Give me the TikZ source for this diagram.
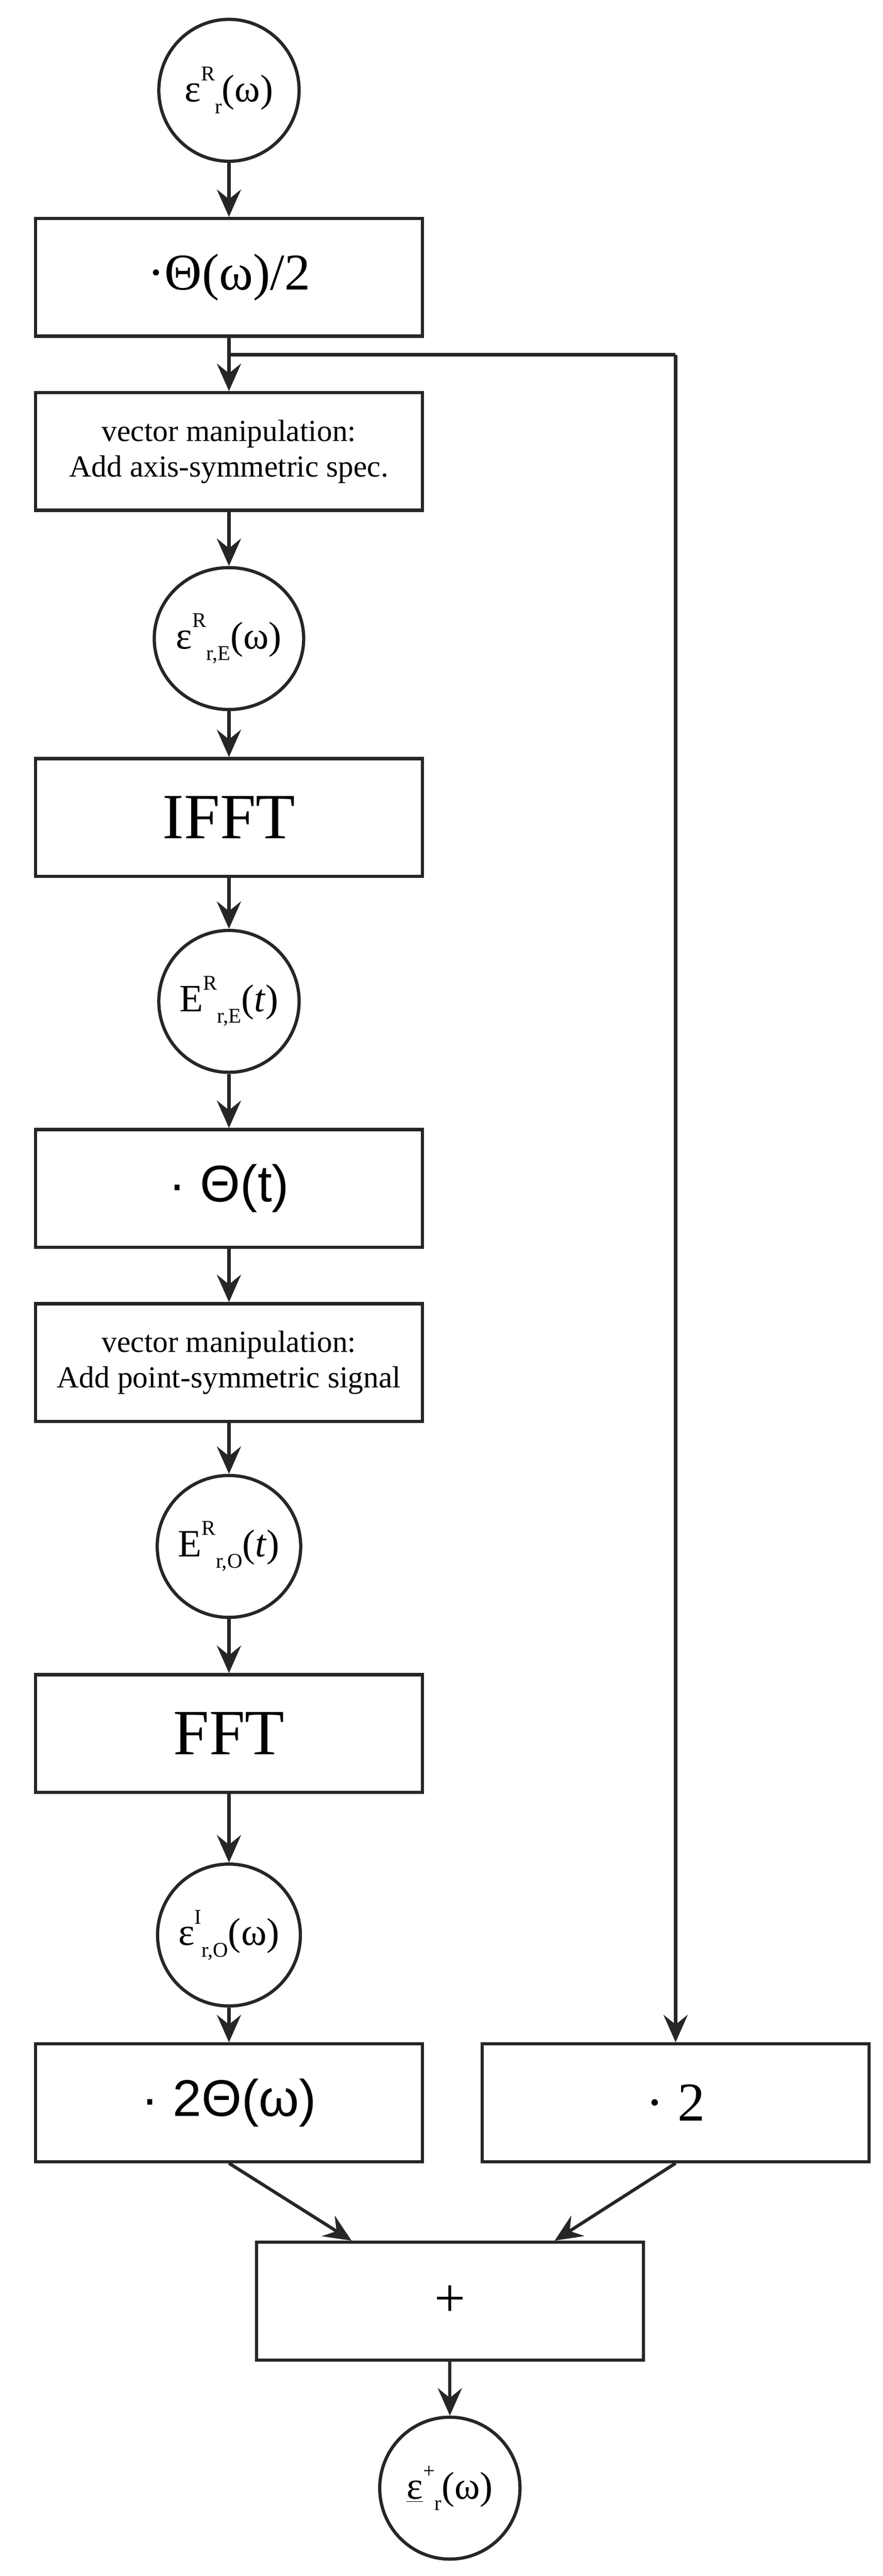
\documentclass[tikz,border=0pt]{standalone}
\usepackage{fontspec}
\setmainfont{Liberation Serif}
\newfontfamily\sansf{Liberation Sans}
\usetikzlibrary{arrows.meta,shapes.geometric}
\newcommand{\myhi}[1]{\raisebox{0.55em}{\fontsize{13}{13}\selectfont #1}}
\newcommand{\mylo}[1]{\raisebox{-0.3em}{\fontsize{13}{13}\selectfont #1}}
\begin{document}
\begin{tikzpicture}[x=1pt,y=-1pt,line width=2pt,draw=black!85,
  circ/.style={draw,ellipse,minimum width=87pt,minimum height=88pt,inner sep=0pt,font=\fontsize{24}{24}\selectfont},
  box/.style={draw,rectangle,minimum width=240pt,minimum height=73pt,inner sep=0pt,align=center},
  arr/.style={-{Stealth[length=17pt,width=15pt,inset=6pt]}}]
\useasboundingbox (0,0) rectangle (547.5,1597.5);
\node[circ] (c1) at (142,56) {ε\myhi{R}\mylo{r}(ω)};
\node[box,font=\fontsize{32}{32}\selectfont] (b1) at (142,172) {·Θ(ω)/2};
\coordinate (br) at (142,220);
\coordinate (brr) at (419,220);
\node[box,font=\fontsize{19}{22}\selectfont] (b2) at (142,280) {vector manipulation:\\Add axis-symmetric spec.};
\node[circ] (c2) at (142,396) {ε\myhi{R}\mylo{r,E}(ω)};
\node[box,font=\fontsize{40}{40}\selectfont] (b3) at (142,507) {IFFT};
\node[circ] (c3) at (142,621) {E\myhi{R}\mylo{r,E}(\textit{t})};
\node[box,font=\sansf\fontsize{32}{32}\selectfont] (b4) at (142,737) {· Θ(t)};
\node[box,font=\fontsize{19}{22}\selectfont] (b5) at (142,845) {vector manipulation:\\Add point-symmetric signal};
\node[circ] (c4) at (142,959) {E\myhi{R}\mylo{r,O}(\textit{t})};
\node[box,font=\fontsize{40}{40}\selectfont] (b6) at (142,1075) {FFT};
\node[circ] (c5) at (142,1200) {ε\myhi{I}\mylo{r,O}(ω)};
\node[box,font=\sansf\fontsize{32}{32}\selectfont] (b7) at (142,1304) {· 2Θ(ω)};
\node[box,font=\fontsize{34}{34}\selectfont] (b8) at (419,1304) {· 2};
\node[box,font=\fontsize{34}{34}\selectfont] (b9) at (279,1427) {+};
\node[circ] (c6) at (279,1543) {\underline{ε}\myhi{+}\mylo{r}(ω)};
\draw[arr] (c1) -- (b1);
\draw[arr] (b1) -- (b2);
\draw (br) -- (brr);
\draw[arr] (brr) -- (b8.north);
\draw[arr] (b2) -- (c2);
\draw[arr] (c2) -- (b3);
\draw[arr] (b3) -- (c3);
\draw[arr] (c3) -- (b4);
\draw[arr] (b4) -- (b5);
\draw[arr] (b5) -- (c4);
\draw[arr] (c4) -- (b6);
\draw[arr] (b6) -- (c5);
\draw[arr] (c5) -- (b7);
\draw[arr] (b7.south) -- (b9.north -| 218,0);
\draw[arr] (b8.south) -- (b9.north -| 344,0);
\draw[arr] (b9) -- (c6);
\end{tikzpicture}
\end{document}
